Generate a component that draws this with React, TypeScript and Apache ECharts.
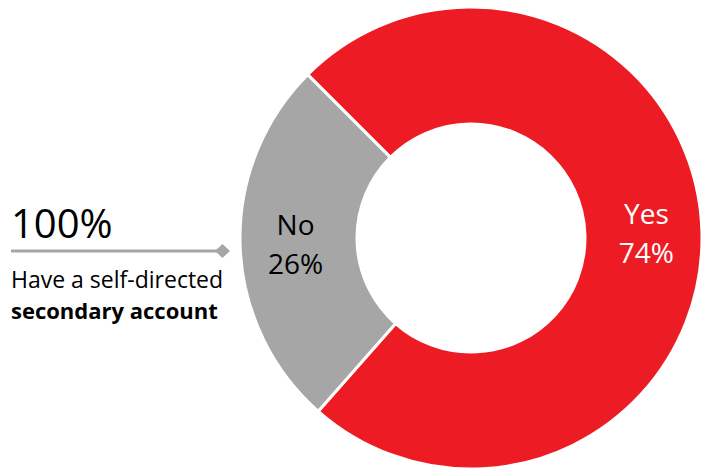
import React, { useEffect, useRef } from "react";
import * as echarts from "echarts";

const categories = ["Yes", "No"];
const values = [74, 26];
const colors = ["#ED1C24", "#A6A6A6"];
const labelColors = ["#ffffff", "#000000"];
const headline = "100%";
const captionLine1 = "Have a self-directed";
const captionLine2 = "secondary account";

export default function App() {
  const ref = useRef<HTMLDivElement>(null);
  useEffect(() => {
    const chart = echarts.init(ref.current!, null, { renderer: "svg" });
    const font = "'Open Sans', sans-serif";
    chart.setOption({
      animation: false,
      backgroundColor: "#ffffff",
      series: [
        {
          type: "pie",
          center: [471, 238],
          radius: [114, 231],
          startAngle: 135,
          clockwise: true,
          avoidLabelOverlap: false,
          itemStyle: { borderColor: "#ffffff", borderWidth: 3 },
          label: {
            show: true,
            position: "inside",
            fontFamily: font,
            fontSize: 28,
            lineHeight: 39,
            padding: [9, 0, 0, 0],
            formatter: (p: any) => `${p.name}\n${p.value}%`,
          },
          labelLine: { show: false },
          emphasis: { disabled: true },
          data: categories.map((c, i) => ({
            name: c,
            value: values[i],
            itemStyle: { color: colors[i] },
            label: { color: labelColors[i] },
          })),
        },
      ],
      graphic: [
        {
          type: "text",
          x: 11,
          y: 222,
          style: { text: headline, fontFamily: font, fontSize: 40, fill: "#000000", verticalAlign: "middle" },
        },
        {
          type: "line",
          shape: { x1: 11, y1: 251, x2: 222, y2: 251 },
          style: { stroke: "#A6A6A6", lineWidth: 3 },
        },
        {
          type: "polygon",
          shape: { points: [[222.5, 244], [230, 251], [222.5, 258], [215, 251]] },
          style: { fill: "#A6A6A6" },
        },
        {
          type: "text",
          x: 11,
          y: 279,
          style: { text: captionLine1, fontFamily: font, fontSize: 23, fill: "#000000", verticalAlign: "middle" },
        },
        {
          type: "text",
          x: 11,
          y: 310,
          style: { text: captionLine2, fontFamily: font, fontSize: 22, fontWeight: "bold", fill: "#000000", verticalAlign: "middle" },
        },
      ],
    });
    return () => chart.dispose();
  }, []);
  return (
    <div
      ref={ref}
      style={{ position: "fixed", left: 0, top: 0, width: 706, height: 473 }}
    />
  );
}
